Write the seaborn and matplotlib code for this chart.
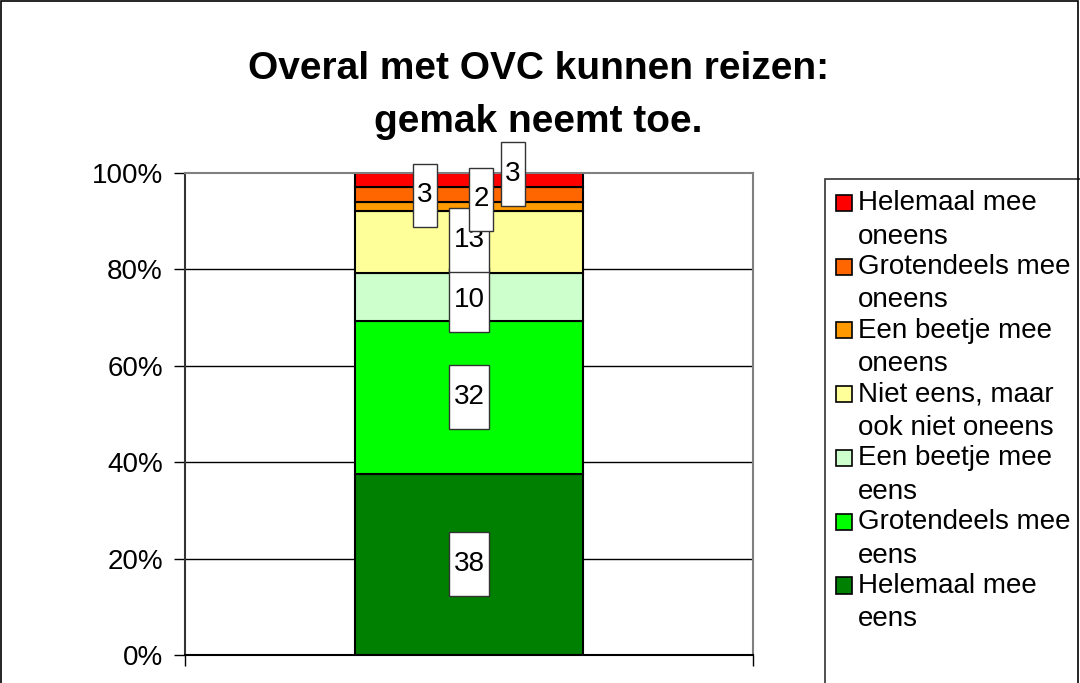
import numpy as np
import pandas as pd
import matplotlib.pyplot as plt
import seaborn as sns
from matplotlib.patches import Rectangle
from matplotlib.path import Path
from matplotlib.legend_handler import HandlerPatch
from matplotlib.ticker import PercentFormatter

# answer categories, from the bottom of the stack to the top
categories = ["Helemaal mee eens", "Grotendeels mee eens", "Een beetje mee eens",
              "Niet eens, maar ook niet oneens", "Een beetje mee oneens",
              "Grotendeels mee oneens", "Helemaal mee oneens"]
legend_labels = ["Helemaal mee\neens", "Grotendeels mee\neens", "Een beetje mee\neens",
                 "Niet eens, maar\nook niet oneens", "Een beetje mee\noneens",
                 "Grotendeels mee\noneens", "Helemaal mee\noneens"]
counts = [38, 32, 10, 13, 2, 3, 3]
colors = ["#008000", "#00FF00", "#CCFFCC", "#FFFF99", "#FF9900", "#FF6600", "#FF0000"]

# the labels of the thin top segments were dragged aside (pixels)
label_dx = [0, 0, 0, 0, 12, -44, 44]
label_dy = [0, 0, -3, 2, 7, -1, 6]

df = pd.DataFrame({"categorie": categories, "aantal": counts})
df["aandeel"] = df["aantal"] / df["aantal"].sum()
df["bodem"] = df["aandeel"].cumsum() - df["aandeel"]

sns.set_style("white")
plt.rcParams['font.family'] = ['Liberation Sans', 'DejaVu Sans']
plt.rcParams['text.color'] = 'black'
plt.rcParams['xtick.color'] = 'black'
plt.rcParams['ytick.color'] = 'black'

fig = plt.figure(figsize=(10.8, 6.83), dpi=100)
ax = fig.add_axes([185 / 1080, 28 / 683, 568 / 1080, 482 / 683])

for i, row in df.iterrows():
    sns.barplot(x=["OVC"], y=[row["aandeel"]], bottom=row["bodem"], color=colors[i],
                saturation=1, width=0.8, errorbar=None, edgecolor="black",
                linewidth=1.5, ax=ax, zorder=2)


# tall white label boxes like the excel data labels
def tall_box(x0, y0, width, height, mutation_size):
    px = 0.16 * mutation_size
    py = 0.68 * mutation_size
    xa, ya = x0 - px, y0 - py
    xb, yb = x0 + width + px, y0 + height + py
    return Path([(xa, ya), (xb, ya), (xb, yb), (xa, yb), (xa, ya)], closed=True)


for i, row in df.iterrows():
    ax.annotate(str(row["aantal"]), xy=(0, row["bodem"] + row["aandeel"] / 2),
                xytext=(label_dx[i], label_dy[i]), textcoords="offset pixels",
                ha="center", va="center", fontsize=20, color="black", zorder=5,
                bbox=dict(boxstyle=tall_box, fc="white", ec="#333333", lw=1))

ax.set_xlim(-1, 1)
ax.set_ylim(0, 1)
ax.set_yticks(np.arange(0, 1.01, 0.2))
ax.yaxis.set_major_formatter(PercentFormatter(1.0, decimals=0))
ax.set_xticks([-1, 1])
ax.set_xticklabels(["", ""])
ax.set_xlabel("")
ax.set_ylabel("")
ax.tick_params(axis="y", direction="out", length=8, width=1, labelsize=20, pad=8,
               left=True, labelcolor="black")
ax.tick_params(axis="x", direction="out", length=8, width=1, bottom=True)

ax.yaxis.grid(True, color="black", lw=1)
ax.set_axisbelow(True)
ax.get_ygridlines()[-1].set_visible(False)

ax.spines["left"].set_color("#333333")
ax.spines["bottom"].set_color("black")
ax.spines["top"].set_color("#808080")
ax.spines["right"].set_color("#808080")
for s in ax.spines.values():
    s.set_linewidth(1.5)


def square_up(legend, orig_handle, xdescent, ydescent, width, height, fontsize):
    side = 0.58 * fontsize
    return Rectangle((-xdescent, -ydescent + height / 2 - side / 2 + 0.62 * fontsize), side, side)


handles = [Rectangle((0, 0), 1, 1, fc=c, ec="black", lw=1.2) for c in colors[::-1]]
leg = fig.legend(handles, legend_labels[::-1], loc="upper left",
                 bbox_to_anchor=(825 / 1080, 1 - 179 / 683), bbox_transform=fig.transFigure,
                 borderaxespad=0, fontsize=20, frameon=False,
                 handlelength=0.6, handleheight=0.6,
                 handletextpad=0.2, labelspacing=0.15, borderpad=0.4,
                 handler_map={Rectangle: HandlerPatch(patch_func=square_up)})
for t in leg.get_texts():
    t.set_linespacing(1.38)
    t.set_color("black")

# legend frame runs off the bottom and right of the chart, as in the original
fig.add_artist(Rectangle((825 / 1080, -0.05), 0.3, 1 - 179 / 683 + 0.05,
                         transform=fig.transFigure, fill=False, ec="#333333", lw=1.2))

fig.text(0.4986, 1 - 79 / 683, "Overal met OVC kunnen reizen:", ha="center",
         va="baseline", fontsize=28, fontweight="bold")
fig.text(0.4986, 1 - 132 / 683, "gemak neemt toe.", ha="center",
         va="baseline", fontsize=28, fontweight="bold")

# outer chart border
fig.add_artist(Rectangle((0.001, -0.01), 0.997, 1.008, transform=fig.transFigure,
                         fill=False, ec="black", lw=1.2))

fig.savefig("out.png", dpi=100)
